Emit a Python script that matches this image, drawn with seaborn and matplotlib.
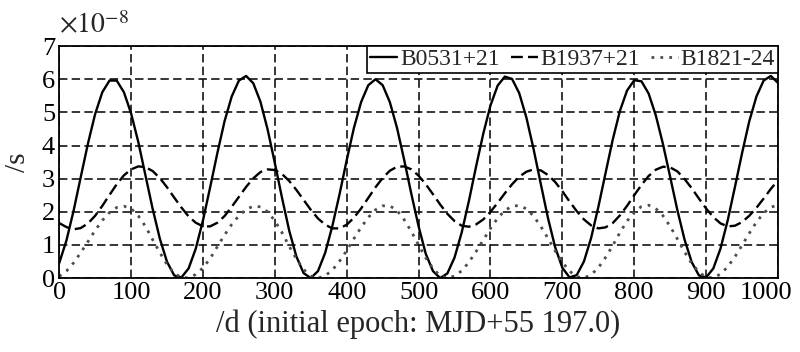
import matplotlib
matplotlib.use("Agg")
import matplotlib.pyplot as plt
from matplotlib.transforms import ScaledTranslation
import seaborn as sns
import pandas as pd

days = list(range(0, 1001, 10))

b0531 = [0.45, 1.13, 2.03, 3.05, 4.06, 4.95, 5.61, 5.96, 5.96, 5.61,
         4.97, 4.11, 3.10, 2.09, 1.19, 0.49, 0.08, 0.02, 0.29, 0.89,
         1.74, 2.74, 3.77, 4.73, 5.48, 5.96, 6.10, 5.88, 5.32, 4.48,
         3.47, 2.42, 1.43, 0.65, 0.15, 0.00, 0.21, 0.76, 1.57, 2.53,
         3.56, 4.53, 5.31, 5.82, 6.00, 5.82, 5.31, 4.53, 3.56, 2.53,
         1.56, 0.73, 0.21, 0.00, 0.14, 0.62, 1.38, 2.33, 3.37, 4.36,
         5.21, 5.81, 6.08, 6.01, 5.58, 4.84, 3.89, 2.84, 1.81, 0.93,
         0.31, 0.02, 0.09, 0.50, 1.21, 2.14, 3.16, 4.17, 5.04, 5.66,
         5.97, 5.94, 5.57, 4.91, 4.04, 3.05, 2.05, 1.16, 0.48, 0.08,
         0.02, 0.29, 0.89, 1.74, 2.74, 3.77, 4.73, 5.48, 5.96, 6.10,
         5.89]

b1937 = [1.66, 1.54, 1.47, 1.51, 1.65, 1.88, 2.18, 2.51, 2.83, 3.10,
         3.28, 3.37, 3.35, 3.23, 3.02, 2.74, 2.43, 2.13, 1.86, 1.67,
         1.56, 1.56, 1.67, 1.87, 2.15, 2.45, 2.75, 3.01, 3.20, 3.28,
         3.26, 3.14, 2.93, 2.66, 2.36, 2.06, 1.80, 1.61, 1.50, 1.50,
         1.61, 1.82, 2.10, 2.42, 2.74, 3.02, 3.24, 3.36, 3.37, 3.28,
         3.09, 2.83, 2.53, 2.22, 1.94, 1.72, 1.58, 1.55, 1.62, 1.77,
         2.00, 2.27, 2.56, 2.83, 3.06, 3.21, 3.28, 3.25, 3.11, 2.90,
         2.62, 2.31, 2.02, 1.77, 1.59, 1.50, 1.53, 1.66, 1.89, 2.18,
         2.50, 2.81, 3.08, 3.27, 3.36, 3.34, 3.22, 2.99, 2.71, 2.40,
         2.10, 1.84, 1.65, 1.56, 1.58, 1.69, 1.88, 2.12, 2.40, 2.69,
         2.95]

b1821 = [0.05, 0.21, 0.46, 0.77, 1.10, 1.44, 1.74, 1.98, 2.13, 2.17,
         2.10, 1.88, 1.56, 1.16, 0.77, 0.41, 0.15, 0.01, 0.01, 0.11,
         0.31, 0.59, 0.95, 1.30, 1.62, 1.88, 2.07, 2.17, 2.15, 2.00,
         1.73, 1.37, 0.96, 0.58, 0.26, 0.06, 0.00, 0.07, 0.24, 0.51,
         0.83, 1.19, 1.53, 1.83, 2.06, 2.18, 2.18, 2.04, 1.76, 1.40,
         1.00, 0.61, 0.29, 0.07, 0.00, 0.06, 0.22, 0.48, 0.80, 1.15,
         1.50, 1.81, 2.04, 2.17, 2.19, 2.09, 1.87, 1.56, 1.20, 0.82,
         0.48, 0.21, 0.04, 0.00, 0.10, 0.31, 0.62, 0.98, 1.37, 1.72,
         1.99, 2.16, 2.20, 2.10, 1.88, 1.56, 1.18, 0.79, 0.44, 0.18,
         0.02, 0.01, 0.12, 0.34, 0.64, 0.99, 1.35, 1.69, 1.96, 2.14,
         2.20]

names = ["B0531+21", "B1937+21", "B1821-24"]
x_ticks = [0, 100, 200, 300, 400, 500, 600, 700, 800, 900, 1000]
y_ticks = [0, 1, 2, 3, 4, 5, 6, 7]

sns.set_style("white")
plt.rcParams["font.family"] = ["Liberation Serif", "DejaVu Serif"]
plt.rcParams["mathtext.fontset"] = "stix"

df = pd.DataFrame({
    "day": days * 3,
    "val": b0531 + b1937 + b1821,
    "psr": [names[0]] * len(days) + [names[1]] * len(days) + [names[2]] * len(days),
})

fig = plt.figure(figsize=(8, 3.52), dpi=100)
ax = fig.add_axes([0.074, 0.21, 0.8985, 0.659])

styles = {
    names[0]: dict(color="black", lw=1.7, ls="-"),
    names[1]: dict(color="black", lw=1.7, ls=(0, (5, 2.2))),
    names[2]: dict(color="#4d4d4d", lw=2.0, ls=(0, (1, 2.2))),
}
for n in names:
    sub = df[df["psr"] == n]
    st = styles[n]
    sns.lineplot(data=sub, x="day", y="val", ax=ax, color=st["color"],
                 linewidth=st["lw"], linestyle=st["ls"], label=n,
                 estimator=None, sort=False)

ax.set_xlim(0, 1000)
ax.set_ylim(0, 7)
ax.set_xticks(x_ticks)
ax.set_yticks(y_ticks)
ax.tick_params(axis="both", labelsize=19, length=0, pad=3, colors="black")
ax.grid(True, color="black", linestyle=(0, (5.5, 2.8)), linewidth=1.1)
for s in ax.spines.values():
    s.set_color("black")
    s.set_linewidth(1.3)

last = ax.get_xticklabels()[-1]
last.set_transform(last.get_transform() + ScaledTranslation(-0.12, 0, fig.dpi_scale_trans))

ax.set_xlabel("/d (initial epoch: MJD+55 197.0)", fontsize=22, labelpad=4)
ax.set_ylabel("/s", fontsize=21, labelpad=8)
fig.text(0.074, 0.905, r"$\times10^{-8}$", fontsize=20, ha="left", va="baseline")

leg = ax.legend(loc="upper right", ncol=3, frameon=True, fancybox=False,
                edgecolor="black", fontsize=17, borderaxespad=0,
                handlelength=1.15, handletextpad=0.12, columnspacing=0.45,
                borderpad=0.12, framealpha=1)
leg.get_frame().set_linewidth(1.2)

fig.savefig("out.png", dpi=100)
